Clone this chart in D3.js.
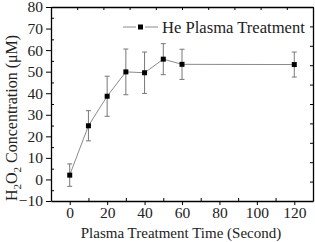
<!DOCTYPE html>
<html lang="en">
<head>
<meta charset="utf-8">
<title>H2O2 Concentration</title>
<script src="https://cdn.jsdelivr.net/npm/d3@7"></script>
<style>
  body { margin: 0; background: #fff; }
  svg text { font-family: "Liberation Serif", "Times New Roman", Times, "DejaVu Serif", serif !important; fill: #222; }
</style>
</head>
<body>
<div id="chart"></div>
<script>
var times = [0, 10, 20, 30, 40, 50, 60, 120];
var conc = [2.0, 24.9, 38.6, 49.9, 49.5, 55.8, 53.4, 53.3];
var errs = [5.2, 7.0, 9.3, 10.6, 9.6, 7.2, 7.0, 5.8];
var xTicks = [0, 20, 40, 60, 80, 100, 120];
var yTicks = [-10, 0, 10, 20, 30, 40, 50, 60, 70, 80];
var seriesName = "He Plasma Treatment";

var w = 315, h = 242;
var pLeft = 51, pRight = 313, pTop = 7, pBottom = 201;

var svg = d3.select("#chart").append("svg")
  .attr("width", w).attr("height", h);

var x = d3.scaleLinear().domain([-10, 130]).range([pLeft, pRight]);
var y = d3.scaleLinear().domain([-10, 80]).range([pBottom, pTop]);

// minor ticks (inward)
svg.append("g")
  .attr("transform", "translate(0," + pBottom + ")")
  .call(d3.axisBottom(x).tickValues(d3.range(-10, 131, 10).filter(v => v % 20 != 0)).tickSize(-3).tickFormat(""))
  .call(g => g.select(".domain").remove());
svg.append("g")
  .attr("transform", "translate(" + pLeft + ",0)")
  .call(d3.axisLeft(y).tickValues(d3.range(-5, 80, 10)).tickSize(-3).tickFormat(""))
  .call(g => g.select(".domain").remove());

// major axes
var xAxis = svg.append("g")
  .attr("transform", "translate(0," + pBottom + ")")
  .call(d3.axisBottom(x).tickValues(xTicks).tickSize(4).tickSizeOuter(0).tickPadding(2));
var yAxis = svg.append("g")
  .attr("transform", "translate(" + pLeft + ",0)")
  .call(d3.axisLeft(y).tickValues(yTicks).tickSize(5).tickSizeOuter(0).tickPadding(3));
[xAxis, yAxis].forEach(function(g) {
  g.attr("font-family", null).attr("font-size", null);
  g.selectAll("text").style("font-size", "15.5px");
  g.select(".domain").attr("stroke-width", 1.3);
});

// mirror frame axes, ten even divisions
var fx = d3.scaleLinear().domain([0, 10]).range([pLeft, pRight]);
var fy = d3.scaleLinear().domain([0, 10]).range([pBottom, pTop]);
svg.append("g")
  .attr("transform", "translate(0," + pTop + ")")
  .call(d3.axisTop(fx).ticks(10).tickSize(-3).tickFormat("").tickSizeOuter(0))
  .select(".domain").attr("stroke-width", 1.3);
svg.append("g")
  .attr("transform", "translate(" + pRight + ",0)")
  .call(d3.axisRight(fy).ticks(10).tickSize(-3).tickFormat("").tickSizeOuter(0))
  .select(".domain").attr("stroke-width", 1.3);

var data = times.map((t, i) => ({t: t, v: conc[i], e: errs[i]}));

// connecting line
svg.append("path")
  .datum(data)
  .attr("fill", "none")
  .attr("stroke", "#8a8a8a")
  .attr("stroke-width", 1)
  .attr("d", d3.line().x(d => x(d.t)).y(d => y(d.v)));

// error bars
var eb = svg.append("g").attr("stroke", "#777").attr("stroke-width", 1);
eb.selectAll("line.v").data(data).enter().append("line")
  .attr("x1", d => x(d.t)).attr("x2", d => x(d.t))
  .attr("y1", d => y(d.v - d.e)).attr("y2", d => y(d.v + d.e));
eb.selectAll("line.t").data(data).enter().append("line")
  .attr("x1", d => x(d.t) - 2.5).attr("x2", d => x(d.t) + 2.5)
  .attr("y1", d => y(d.v + d.e)).attr("y2", d => y(d.v + d.e));
eb.selectAll("line.b").data(data).enter().append("line")
  .attr("x1", d => x(d.t) - 2.5).attr("x2", d => x(d.t) + 2.5)
  .attr("y1", d => y(d.v - d.e)).attr("y2", d => y(d.v - d.e));

// markers
svg.selectAll("rect.pt").data(data).enter().append("rect")
  .attr("x", d => x(d.t) - 2.5).attr("y", d => y(d.v) - 2.5)
  .attr("width", 5).attr("height", 5)
  .attr("fill", "#000");

// legend
var lg = svg.append("g").attr("transform", "translate(123,27)");
lg.append("line").attr("x1", 0).attr("x2", 13).attr("stroke", "#8a8a8a");
lg.append("line").attr("x1", 22).attr("x2", 35).attr("stroke", "#8a8a8a");
lg.append("rect").attr("x", 15).attr("y", -2.5).attr("width", 5).attr("height", 5).attr("fill", "#000");
lg.append("text").attr("x", 39).attr("y", 5.5).style("font-size", "16.6px").text(seriesName);

// axis titles
svg.append("text")
  .attr("x", (pLeft + pRight) / 2 - 1).attr("y", 238)
  .attr("text-anchor", "middle")
  .style("font-size", "15px")
  .text("Plasma Treatment Time (Second)");

var yt = svg.append("text")
  .attr("transform", "translate(17,118) rotate(-90)")
  .attr("text-anchor", "middle")
  .style("font-size", "16px");
yt.append("tspan").text("H");
yt.append("tspan").attr("dy", 4).style("font-size", "11px").text("2");
yt.append("tspan").attr("dy", -4).text("O");
yt.append("tspan").attr("dy", 4).style("font-size", "11px").text("2");
yt.append("tspan").attr("dy", -4).text(" Concentration (\u03bcM)");
</script>
</body>
</html>
